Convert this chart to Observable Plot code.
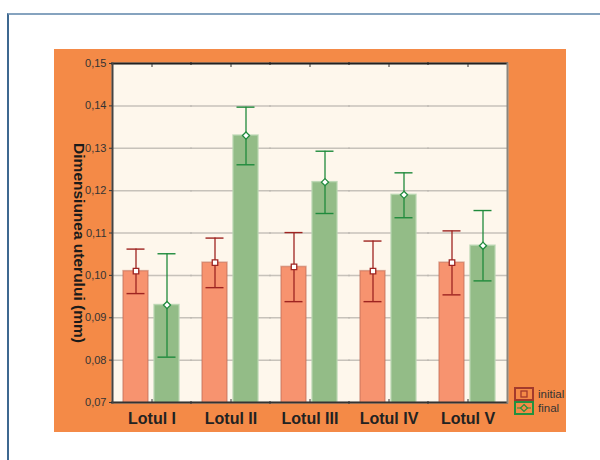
<!DOCTYPE html>
<html>
<head>
<meta charset="utf-8">
<script src="https://cdn.jsdelivr.net/npm/d3@7"></script>
<script src="https://cdn.jsdelivr.net/npm/@observablehq/plot@0.6"></script>
<style>
  html, body { margin: 0; padding: 0; background: #fff; width: 600px; height: 460px; overflow: hidden; }
  body { font-family: "Liberation Sans", Arial, sans-serif; }
  #pageframe { position: absolute; left: 7px; top: 13px; width: 600px; height: 460px;
    border-top: 2px solid #86a3bf; border-left: 2px solid #3d6890; }
  #panel { position: absolute; left: 54px; top: 49px; width: 512px; height: 383px; background: #F48A47; }
  #panel svg { position: absolute; left: 0; top: 0; }
  #ylabel { position: absolute; left: 25px; top: 194px; transform: translate(-50%, -50%) rotate(90deg);
    white-space: nowrap; font-weight: bold; font-size: 15.5px; color: #1a1a1a; }
  #legend { position: absolute; left: 460px; top: 338px; font-size: 11.5px; color: #333; }
  #legend .row { display: flex; align-items: center; height: 14px; margin-bottom: 0px; }
  #legend svg { position: static; margin-right: 4px; }
</style>
</head>
<body>
<div id="pageframe"></div>
<div id="panel">
  <div id="chart"></div>
  <div id="ylabel">Dimensiunea uterului (mm)</div>
  <div id="legend">
    <div class="row"><svg width="20" height="14"><rect x="1" y="1" width="18" height="12" fill="none" stroke="#a33a2c" stroke-width="2"/><rect x="7" y="4" width="6" height="6" fill="none" stroke="#a33a2c" stroke-width="1.3"/></svg><span>initial</span></div>
    <div class="row"><svg width="20" height="14"><rect x="1" y="1" width="18" height="12" fill="none" stroke="#24913f" stroke-width="2"/><line x1="3" y1="7" x2="17" y2="7" stroke="#24913f" stroke-width="1"/><path d="M10,3.5L13.5,7L10,10.5L6.5,7Z" fill="#F48A47" stroke="#24913f" stroke-width="1.2"/></svg><span>final</span></div>
  </div>
</div>
<script>
const groups = ["Lotul I", "Lotul II", "Lotul III", "Lotul IV", "Lotul V"];
const seriesNames = ["initial", "final"];
const initialMean = [0.101, 0.103, 0.102, 0.101, 0.103];
const initialLow  = [0.0957, 0.0971, 0.0938, 0.0938, 0.0954];
const initialHigh = [0.1062, 0.1088, 0.1101, 0.1081, 0.1105];
const finalMean = [0.093, 0.133, 0.122, 0.119, 0.107];
const finalLow  = [0.0807, 0.1261, 0.1146, 0.1136, 0.0987];
const finalHigh = [0.1051, 0.1397, 0.1293, 0.1242, 0.1153];
const yTicks = [0.07, 0.08, 0.09, 0.10, 0.11, 0.12, 0.13, 0.14, 0.15];

const initRows = groups.map((g, i) => ({group: g, series: "initial", mean: initialMean[i], low: initialLow[i], high: initialHigh[i]}));
const finalRows = groups.map((g, i) => ({group: g, series: "final", mean: finalMean[i], low: finalLow[i], high: finalHigh[i]}));

const C = {
  cream: "#FEF7EC",
  initFill: "#F7936F", initEdge: "#c0705a", initErr: "#9e2421",
  finalFill: "#93BC87", finalEdge: "#b8d6b0", finalErr: "#1f8a3c",
  grid: "#bdb9b1"
};

const fmt = d => d.toFixed(2).replace(".", ",");

const chart = Plot.plot({
  width: 512, height: 383,
  marginLeft: 56, marginRight: 58, marginTop: 14, marginBottom: 30,
  style: {background: "transparent", fontFamily: "'Liberation Sans', Arial, sans-serif", color: "#333", overflow: "visible"},
  fx: {domain: groups, padding: 0, label: null},
  x: {domain: seriesNames, paddingInner: 0.1875, paddingOuter: 0.3375, axis: null},
  y: {domain: [0.07, 0.15]},
  marks: [
    Plot.frame({fill: C.cream, stroke: C.cream, strokeWidth: 1.5}),
    Plot.gridY(yTicks, {stroke: C.grid, strokeOpacity: 0.85, strokeWidth: 1.5, insetLeft: -1, insetRight: -1}),
    Plot.barY(initRows, {fx: "group", x: "series", y: "mean", fill: C.initFill, stroke: C.initEdge, strokeOpacity: 0.55, strokeWidth: 1.5, clip: true}),
    Plot.barY(finalRows, {fx: "group", x: "series", y: "mean", fill: C.finalFill, stroke: C.finalEdge, strokeOpacity: 0.8, strokeWidth: 1.5, clip: true}),
    Plot.ruleX(initRows, {fx: "group", x: "series", y1: "low", y2: "high", stroke: C.initErr, strokeWidth: 1.3}),
    Plot.ruleX(finalRows, {fx: "group", x: "series", y1: "low", y2: "high", stroke: C.finalErr, strokeWidth: 1.3}),
    Plot.tickY(initRows, {fx: "group", x: "series", y: "low", stroke: C.initErr, strokeWidth: 1.4, inset: 3.5}),
    Plot.tickY(initRows, {fx: "group", x: "series", y: "high", stroke: C.initErr, strokeWidth: 1.4, inset: 3.5}),
    Plot.tickY(finalRows, {fx: "group", x: "series", y: "low", stroke: C.finalErr, strokeWidth: 1.4, inset: 3.5}),
    Plot.tickY(finalRows, {fx: "group", x: "series", y: "high", stroke: C.finalErr, strokeWidth: 1.4, inset: 3.5}),
    Plot.dot(initRows, {fx: "group", x: "series", y: "mean", symbol: "square", r: 3.1, fill: "white", stroke: C.initErr, strokeWidth: 1.3}),
    Plot.dot(finalRows, {fx: "group", x: "series", y: "mean", symbol: "diamond2", r: 3.2, fill: "white", stroke: C.finalErr, strokeWidth: 1.3}),
    Plot.ruleY([0.15], {stroke: "#222", strokeWidth: 2, insetLeft: -1, insetRight: -1}),
    Plot.ruleY([0.07], {stroke: "#333", strokeWidth: 2, insetLeft: -1, insetRight: -1}),
    Plot.frame({anchor: "left", facetAnchor: "left", stroke: "#444", strokeWidth: 2}),
    Plot.frame({anchor: "right", facetAnchor: "right", stroke: "#8a857d", strokeWidth: 2}),
    Plot.axisY(yTicks, {tickFormat: fmt, tickSize: 3, tickPadding: 3, fontSize: 11, label: null, stroke: "#333"}),
    Plot.axisFx({anchor: "bottom", tickSize: 0, tickPadding: 10, fontSize: 16, fontWeight: "bold", fill: "#222", label: null}),
    Plot.axisFx({anchor: "bottom", tickSize: 3, tickFormat: () => "", dy: -3, label: null, stroke: "#333"}),
    Plot.axisFx({anchor: "top", tickSize: 3, tickFormat: () => "", dy: 3, label: null, stroke: "#333"})
  ]
});
document.getElementById("chart").appendChild(chart);
</script>
</body>
</html>
